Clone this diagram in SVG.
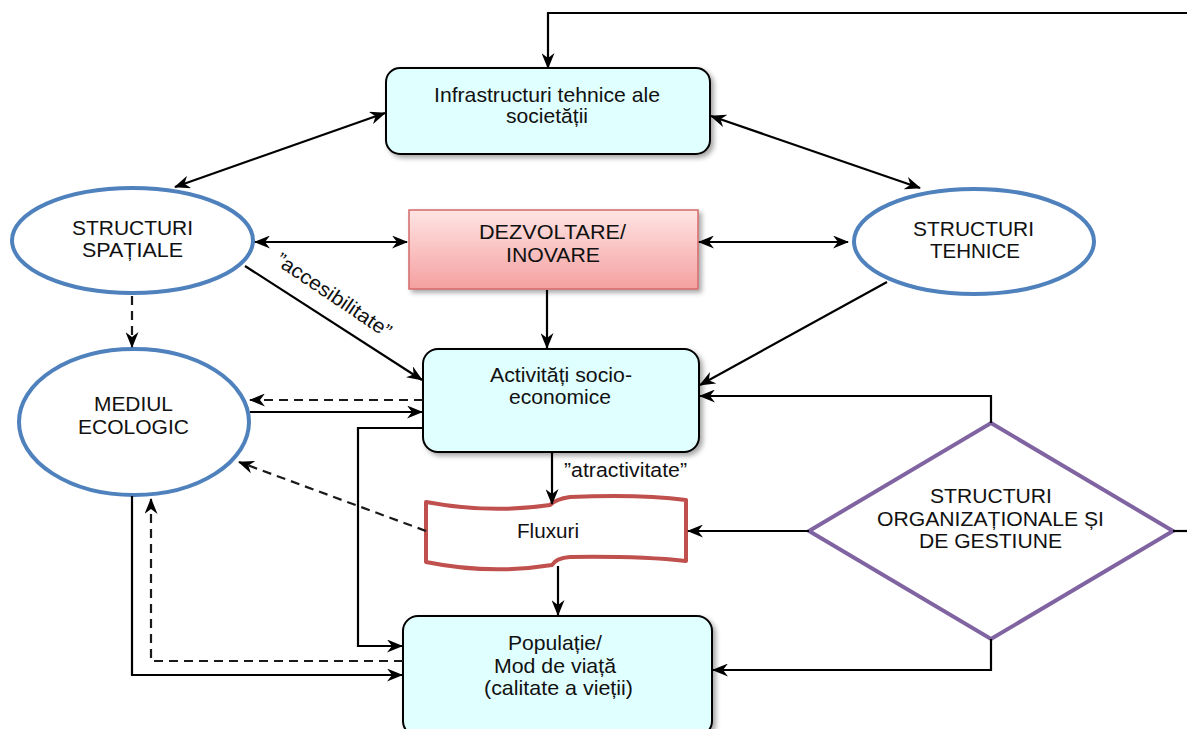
<svg xmlns="http://www.w3.org/2000/svg" width="1187" height="729" viewBox="0 0 1187 729">
<style>
text{font-family:"Liberation Sans",Arial,sans-serif;font-size:19.5px;fill:#111;text-anchor:middle}
.lc{font-size:21px}
.box{fill:#e0ffff;stroke:#000;stroke-width:2}
.ell{fill:#fff;stroke:#4f81bd;stroke-width:4}
.c{fill:none;stroke:#000;stroke-width:2.2}
.d{fill:none;stroke:#1a1a1a;stroke-width:2.2;stroke-dasharray:9 6}
</style>
<defs>
<marker id="a" markerUnits="userSpaceOnUse" viewBox="0 0 16 13" refX="15" refY="6.5" markerWidth="16" markerHeight="13" orient="auto-start-reverse">
<path d="M0,0 L16,6.5 L0,13 L5,6.5 Z" fill="#000"/>
</marker>
<linearGradient id="pink" x1="0" y1="0" x2="0" y2="1">
<stop offset="0" stop-color="#ffe4e4"/>
<stop offset="1" stop-color="#f5a0a0"/>
</linearGradient>
<filter id="sh" x="-10%" y="-10%" width="125%" height="130%">
<feDropShadow dx="3" dy="3" stdDeviation="2.5" flood-color="#000" flood-opacity="0.35"/>
</filter>
</defs>

<g id="infrastructuri">
<rect class="box" x="386" y="68" width="324" height="86" rx="14" filter="url(#sh)"/>
<text class="lc" x="547" y="102" textLength="226" lengthAdjust="spacingAndGlyphs">Infrastructuri tehnice ale</text>
<text class="lc" x="547" y="123" textLength="82" lengthAdjust="spacingAndGlyphs">societății</text>
</g>

<g id="structuri-spatiale">
<ellipse class="ell" cx="132.5" cy="240.5" rx="120.5" ry="52.5"/>
<text x="132.5" y="235" textLength="121" lengthAdjust="spacingAndGlyphs">STRUCTURI</text>
<text x="132.5" y="257" textLength="101" lengthAdjust="spacingAndGlyphs">SPAȚIALE</text>
</g>

<g id="dezvoltare">
<rect x="409" y="210" width="289" height="79" fill="url(#pink)" stroke="#d46a6a" stroke-width="1.5" filter="url(#sh)"/>
<text x="552.5" y="239" textLength="147" lengthAdjust="spacingAndGlyphs">DEZVOLTARE/</text>
<text x="553" y="262" textLength="94" lengthAdjust="spacingAndGlyphs">INOVARE</text>
</g>

<g id="structuri-tehnice">
<ellipse class="ell" cx="974" cy="241.5" rx="120" ry="52.5"/>
<text x="973.5" y="236" textLength="121" lengthAdjust="spacingAndGlyphs">STRUCTURI</text>
<text x="975" y="258" textLength="90" lengthAdjust="spacingAndGlyphs">TEHNICE</text>
</g>

<g id="mediul-ecologic">
<ellipse class="ell" cx="134" cy="422" rx="115" ry="73"/>
<text x="133.5" y="411" textLength="79" lengthAdjust="spacingAndGlyphs">MEDIUL</text>
<text x="133.5" y="434" textLength="111" lengthAdjust="spacingAndGlyphs">ECOLOGIC</text>
</g>

<g id="activitati">
<rect class="box" x="423" y="349" width="276" height="103" rx="15" filter="url(#sh)"/>
<text class="lc" x="561" y="382" textLength="142" lengthAdjust="spacingAndGlyphs">Activități socio-</text>
<text class="lc" x="560" y="404" textLength="102" lengthAdjust="spacingAndGlyphs">economice</text>
</g>

<g id="fluxuri">
<path d="M426,502 Q490,514 550,505 Q556,499 570,497 Q640,494 686,500 L686,561 Q640,556 570,557 Q556,558 552,565 Q490,575 426,562 Z" fill="#fff" stroke="#c0504d" stroke-width="4" stroke-linejoin="round"/>
<text class="lc" x="548" y="538" textLength="62" lengthAdjust="spacingAndGlyphs">Fluxuri</text>
</g>

<g id="populatie">
<rect class="box" x="403" y="616" width="309" height="120" rx="15" filter="url(#sh)"/>
<text class="lc" x="555" y="650" textLength="94" lengthAdjust="spacingAndGlyphs">Populație/</text>
<text class="lc" x="555" y="673" textLength="122" lengthAdjust="spacingAndGlyphs">Mod de viață</text>
<text class="lc" x="558.5" y="695" textLength="149" lengthAdjust="spacingAndGlyphs">(calitate a vieții)</text>
</g>

<g id="structuri-organizationale">
<polygon points="991,423 1173,531 991,639 809,531" fill="#fff" stroke="#8064a2" stroke-width="4" stroke-linejoin="miter"/>
<text x="991" y="503" textLength="122" lengthAdjust="spacingAndGlyphs">STRUCTURI</text>
<text x="990.5" y="526" textLength="227" lengthAdjust="spacingAndGlyphs">ORGANIZAȚIONALE ȘI</text>
<text x="990.5" y="548" textLength="143" lengthAdjust="spacingAndGlyphs">DE GESTIUNE</text>
</g>

<g id="connectors">
<path class="c" d="M1187,13 L548,13 L548,68" stroke-width="2.6" marker-end="url(#a)"/>
<path class="c" d="M385,113 L175,187" marker-start="url(#a)" marker-end="url(#a)"/>
<path class="c" d="M711,116 L920,188" marker-start="url(#a)" marker-end="url(#a)"/>
<path class="c" d="M255,242 L407,242" marker-start="url(#a)" marker-end="url(#a)"/>
<path class="c" d="M699,242 L848,242" marker-start="url(#a)" marker-end="url(#a)"/>
<path class="c" d="M547,290 L547,348" marker-end="url(#a)"/>
<path class="c" d="M245,266 L422,380" marker-end="url(#a)"/>
<path class="c" d="M887,282 L700,385" marker-end="url(#a)"/>
<path class="d" d="M132,296 L132,347" marker-end="url(#a)"/>
<path class="d" d="M423,400 L250,400" marker-end="url(#a)"/>
<path class="c" d="M250,412 L422,412" marker-end="url(#a)"/>
<path class="c" d="M423,428 L358,428 L358,646 L402,646" marker-end="url(#a)"/>
<path class="c" d="M552,452 L552,504" marker-end="url(#a)"/>
<path class="c" d="M558,566 L558,615" marker-end="url(#a)"/>
<path class="d" d="M426,531 L239,462" marker-end="url(#a)"/>
<path class="c" d="M809,531 L688,531" marker-end="url(#a)"/>
<path class="c" d="M991,423 L991,396 L700,396" marker-end="url(#a)"/>
<path class="c" d="M991,639 L991,670 L713,670" marker-end="url(#a)"/>
<path class="c" d="M1173,531 L1187,531"/>
<path class="c" d="M132,496 L132,675 L402,675" marker-end="url(#a)"/>
<path class="d" d="M403,661 L151,661 L151,499" marker-end="url(#a)"/>
<text x="0" y="0" transform="translate(330,301) rotate(34)" style="font-size:20px" textLength="135" lengthAdjust="spacingAndGlyphs">”accesibilitate”</text>
<text x="564" y="477" style="text-anchor:start;font-size:20.5px" textLength="123" lengthAdjust="spacingAndGlyphs">”atractivitate”</text>
</g>
</svg>
